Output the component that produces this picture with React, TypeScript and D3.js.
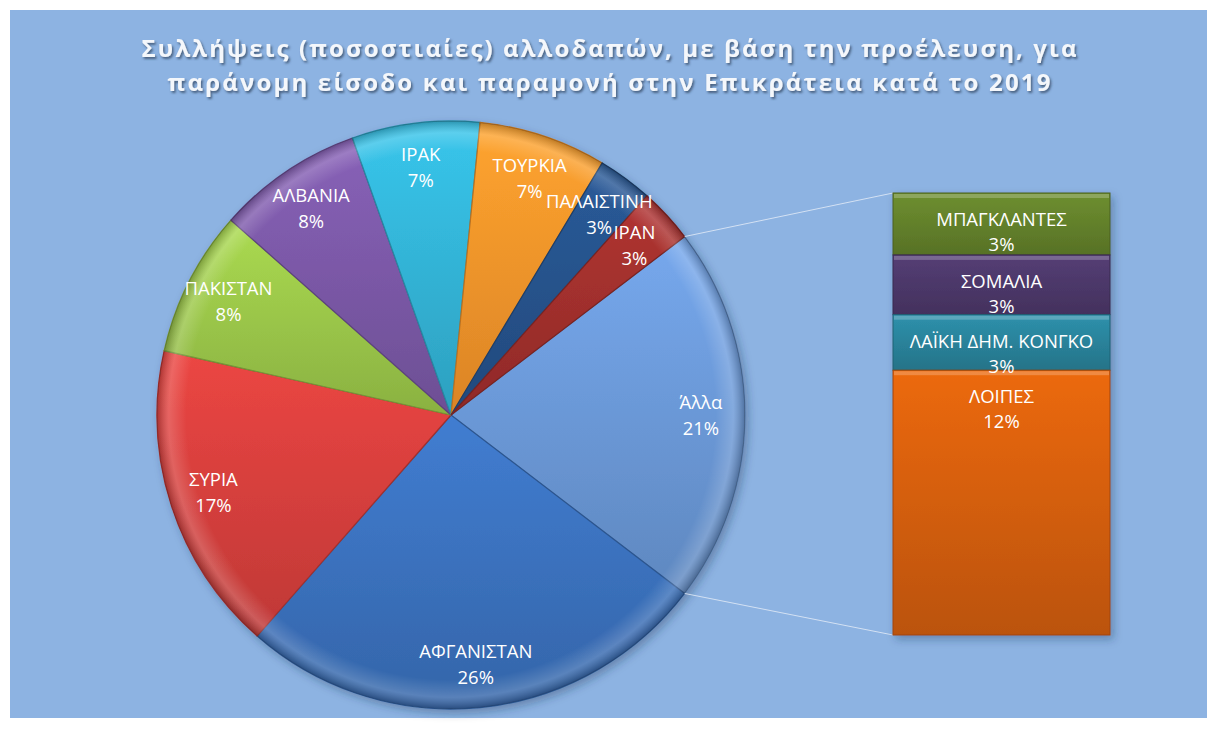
import * as React from 'react';
import {useEffect, useRef} from 'react';
import * as d3 from 'd3';

const titleLines = [
  'Συλλήψεις (ποσοστιαίες) αλλοδαπών, με βάση την προέλευση, για',
  'παράνομη είσοδο και παραμονή στην Επικράτεια κατά το 2019'
];

// main pie, clockwise starting right after the "other" slice
const pieNames = ['ΑΦΓΑΝΙΣΤΑΝ', 'ΣΥΡΙΑ', 'ΠΑΚΙΣΤΑΝ', 'ΑΛΒΑΝΙΑ', 'ΙΡΑΚ', 'ΤΟΥΡΚΙΑ', 'ΠΑΛΑΙΣΤΙΝΗ', 'ΙΡΑΝ'];
const pieValues = [26, 17, 8, 8, 7, 7, 3, 3];
const pieColors = ['#3b72bf', '#d8403d', '#9cc84a', '#7c59a8', '#33b5d8', '#f8962b', '#26538c', '#a2302d'];

const otherName = 'Άλλα';
const otherColor = '#6c9ad9';

// secondary bar (split of "other")
const barNames = ['ΜΠΑΓΚΛΑΝΤΕΣ', 'ΣΟΜΑΛΙΑ', 'ΛΑΪΚΗ ΔΗΜ. ΚΟΝΓΚΟ', 'ΛΟΙΠΕΣ'];
const barValues = [2.9, 2.8, 2.6, 12.4];
const barColors = ['#66852d', '#4f3a6d', '#2b87a0', '#dc620c'];

const W = 1218;
const H = 729;

export default function App() {
  const ref = useRef<SVGSVGElement>(null);

  useEffect(() => {
    const svg = d3.select(ref.current);
    svg.selectAll('*').remove();

    const cx = 451, cy = 415, r = 294;
    const labelFont = '"Open Sans", "Noto Sans", sans-serif';

    const otherValue = d3.sum(barValues);
    const total = d3.sum(pieValues) + otherValue;
    const pct = (v: number) => d3.format('.0%')(v / total);

    const defs = svg.append('defs');

    const shadow = defs.append('filter').attr('id', 'shadow')
      .attr('x', '-10%').attr('y', '-10%').attr('width', '130%').attr('height', '130%');
    shadow.append('feDropShadow').attr('dx', 3).attr('dy', 4).attr('stdDeviation', 4)
      .attr('flood-color', '#1d3557').attr('flood-opacity', 0.35);

    const textShadow = defs.append('filter').attr('id', 'tshadow');
    textShadow.append('feDropShadow').attr('dx', 1.5).attr('dy', 2).attr('stdDeviation', 1)
      .attr('flood-color', '#2a3a55').attr('flood-opacity', 0.7);

    const grad = (id: string, color: string, k1: number, k2: number) => {
      const g = defs.append('linearGradient').attr('id', id)
        .attr('x1', 0).attr('y1', 0).attr('x2', 0).attr('y2', 1);
      g.append('stop').attr('offset', '0%').attr('stop-color', d3.color(color)!.brighter(k1).formatHex());
      g.append('stop').attr('offset', '100%').attr('stop-color', d3.color(color)!.darker(k2).formatHex());
    };

    // background panel
    svg.append('rect').attr('width', W).attr('height', H).attr('fill', '#ffffff');
    svg.append('rect')
      .attr('x', 10).attr('y', 10).attr('width', 1197).attr('height', 708)
      .attr('fill', '#8db3e2');

    // title
    const titleWidths = [935, 883];
    svg.append('g')
      .attr('filter', 'url(#tshadow)')
      .selectAll('text')
      .data(titleLines)
      .join('text')
      .attr('x', W / 2)
      .attr('y', (d, i) => 57 + i * 34)
      .attr('text-anchor', 'middle')
      .attr('textLength', (d, i) => titleWidths[i])
      .attr('lengthAdjust', 'spacing')
      .style('font', `bold 24px ${labelFont}`)
      .attr('fill', '#f4f7fb')
      .text(d => d);

    // pie: "other" slice centred at 3 o'clock
    const slices = [otherName, ...pieNames];
    const values = [otherValue, ...pieValues];
    const colors = [otherColor, ...pieColors];
    const otherAngle = (otherValue / total) * 2 * Math.PI;
    const start = Math.PI / 2 - otherAngle / 2;

    const arcs = d3.pie<number>().sort(null)
      .startAngle(start).endAngle(start + 2 * Math.PI)(values);

    slices.forEach((s, i) => grad(`sg${i}`, colors[i], 0.25, 0.35));

    const arc = d3.arc<d3.PieArcDatum<number>>().innerRadius(0).outerRadius(r);
    const labelArc = d3.arc<d3.PieArcDatum<number>>().innerRadius(r * 0.85).outerRadius(r * 0.85);

    const pieG = svg.append('g').attr('transform', `translate(${cx},${cy})`);

    pieG.append('g').attr('filter', 'url(#shadow)')
      .selectAll('path')
      .data(arcs)
      .join('path')
      .attr('d', arc as any)
      .attr('fill', (d, i) => `url(#sg${i})`)
      .attr('stroke', (d, i) => d3.color(colors[i])!.darker(0.8).formatHex())
      .attr('stroke-width', 1.2);

    // bevel highlight on the outer rim
    const bevel = defs.append('radialGradient').attr('id', 'bevel')
      .attr('cx', '50%').attr('cy', '50%').attr('r', '50%');
    bevel.append('stop').attr('offset', '90%').attr('stop-color', '#ffffff').attr('stop-opacity', 0);
    bevel.append('stop').attr('offset', '96%').attr('stop-color', '#ffffff').attr('stop-opacity', 0.18);
    bevel.append('stop').attr('offset', '100%').attr('stop-color', '#000000').attr('stop-opacity', 0.25);
    pieG.append('circle').attr('r', r).attr('fill', 'url(#bevel)').attr('pointer-events', 'none');

    const labels = pieG.append('g')
      .attr('text-anchor', 'middle')
      .attr('fill', '#ffffff')
      .style('font', `18.5px ${labelFont}`)
      .selectAll('g')
      .data(arcs)
      .join('g')
      .attr('transform', d => `translate(${labelArc.centroid(d)})`);

    labels.append('text').attr('y', -6).text((d, i) => slices[i]);
    labels.append('text').attr('y', 20).text(d => pct(d.value));

    // secondary bar
    const bx = 893, bw = 217, by0 = 193, by1 = 635;
    const y = d3.scaleLinear().domain([0, otherValue]).range([by0, by1]);
    const cum = d3.cumsum(barValues);
    const segs = barValues.map((v, i) => ({name: barNames[i], value: v, y0: y(cum[i] - v), y1: y(cum[i])}));

    barColors.forEach((c, i) => grad(`bg${i}`, c, 0.2, 0.45));

    // connector lines
    const other = arcs[0];
    const p0 = [cx + r * Math.sin(other.startAngle), cy - r * Math.cos(other.startAngle)];
    const p1 = [cx + r * Math.sin(other.endAngle), cy - r * Math.cos(other.endAngle)];
    svg.append('g')
      .attr('stroke', '#dfe9f6').attr('stroke-width', 1).attr('stroke-opacity', 0.85)
      .selectAll('line')
      .data([[p0, [bx, by0]], [p1, [bx, by1]]])
      .join('line')
      .attr('x1', d => d[0][0]).attr('y1', d => d[0][1])
      .attr('x2', d => d[1][0]).attr('y2', d => d[1][1]);

    const barG = svg.append('g').attr('filter', 'url(#shadow)');
    barG.selectAll('rect.seg')
      .data(segs)
      .join('rect')
      .attr('class', 'seg')
      .attr('x', bx).attr('y', d => d.y0)
      .attr('width', bw).attr('height', d => d.y1 - d.y0)
      .attr('fill', (d, i) => `url(#bg${i})`)
      .attr('stroke', (d, i) => d3.color(barColors[i])!.darker(0.9).formatHex())
      .attr('stroke-width', 1);

    // top bevel strip of each segment
    barG.selectAll('rect.hl')
      .data(segs)
      .join('rect')
      .attr('class', 'hl')
      .attr('x', bx + 1).attr('y', d => d.y0 + 1)
      .attr('width', bw - 2).attr('height', 4)
      .attr('fill', '#ffffff').attr('fill-opacity', 0.22);

    const barLabels = svg.append('g')
      .attr('text-anchor', 'middle')
      .attr('fill', '#ffffff')
      .style('font', `18.5px ${labelFont}`)
      .selectAll('g')
      .data(segs)
      .join('g')
      .attr('transform', d => `translate(${bx + bw / 2},${d.y0})`);

    barLabels.append('text').attr('y', 33).text(d => d.name);
    barLabels.append('text').attr('y', 58).text(d => pct(d.value));
  }, []);

  return (
    <svg ref={ref} width={W} height={H} style={{position: 'absolute', left: 0, top: 0}}/>
  );
}
